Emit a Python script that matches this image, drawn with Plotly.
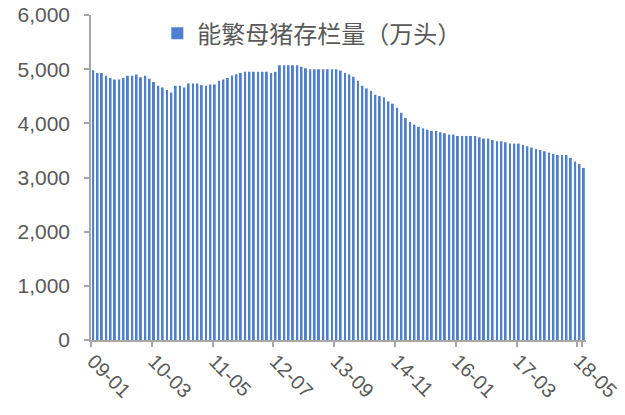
import plotly.graph_objects as go
import pandas as pd

# --- DADOS: 能繁母猪存栏量（万头），mensal, 2009-01 a 2018-06 ---
meses = pd.date_range("2009-01-01", "2018-06-01", freq="MS").strftime("%y-%m").tolist()

estoque = [
    4982, 4927, 4927, 4877, 4835, 4810, 4810, 4835, 4877, 4877, 4902, 4853,
    4877, 4822, 4761, 4693, 4662, 4614, 4570, 4693, 4693, 4662, 4736, 4736,
    4736, 4706, 4693, 4718, 4718, 4785, 4810, 4835, 4883, 4908, 4927, 4951,
    4951, 4951, 4951, 4951, 4951, 4927, 4951, 5074, 5074, 5074, 5074, 5074,
    5043, 5019, 5000, 5000, 5000, 5000, 5000, 5000, 5000, 4976, 4927, 4902,
    4859, 4785, 4693, 4644, 4601, 4528, 4503, 4478, 4405, 4362, 4288, 4195,
    4099, 4025, 3976, 3935, 3908, 3884, 3859, 3859, 3835, 3817, 3792, 3792,
    3767, 3767, 3767, 3767, 3767, 3742, 3718, 3718, 3694, 3669, 3669, 3651,
    3626, 3626, 3626, 3602, 3577, 3552, 3528, 3509, 3485, 3460, 3436, 3415,
    3415, 3415, 3362, 3295, 3250, 3178,
]

rotulos_x = meses[::14]  # 09-01, 10-03, ... 18-05
rotulos_y = [0, 1000, 2000, 3000, 4000, 5000, 6000]

COR_BARRA = "#4F7FCF"
COR_TEXTO = "#595959"
COR_EIXO = "#A6A6A6"

fig = go.Figure(
    go.Bar(
        x=meses,
        y=estoque,
        name="能繁母猪存栏量（万头）",
        marker=dict(color=COR_BARRA, line_width=0),
    )
)

fig.update_layout(
    width=625,
    height=415,
    paper_bgcolor="white",
    plot_bgcolor="white",
    bargap=0.55,
    margin=dict(l=91, r=39, t=14, b=75),
    font=dict(family="Liberation Sans, Noto Sans CJK SC", size=20, color=COR_TEXTO),
    showlegend=True,
    legend=dict(
        x=0.134,
        y=0.94,
        xanchor="left",
        yanchor="middle",
        bgcolor="rgba(0,0,0,0)",
        font=dict(family="Noto Sans CJK SC", size=24, color=COR_TEXTO),
    ),
    xaxis=dict(
        type="category",
        categoryorder="array",
        categoryarray=meses,
        tickmode="array",
        tickvals=rotulos_x,
        ticktext=rotulos_x,
        tickson="boundaries",
        tickangle=45,
        ticks="outside",
        ticklen=5,
        tickwidth=1.5,
        tickcolor=COR_EIXO,
        showline=True,
        linecolor=COR_EIXO,
        linewidth=1.5,
        showgrid=False,
        automargin=False,
        range=[-0.5, len(meses) - 0.5],
    ),
    yaxis=dict(
        range=[0, 6000],
        tickmode="array",
        tickvals=rotulos_y,
        tickformat=",",
        tickfont=dict(size=21),
        ticks="outside",
        ticklen=5,
        tickwidth=1.5,
        tickcolor=COR_EIXO,
        ticklabelstandoff=10,
        showline=True,
        linecolor=COR_EIXO,
        linewidth=1.5,
        showgrid=False,
        zeroline=False,
        automargin=False,
    ),
)

# tira a margem padrão do <body> para a figura ocupar a janela inteira
fig.write_html(
    "out.html",
    config={"displayModeBar": False},
    post_script="document.body.style.margin='0';",
)
